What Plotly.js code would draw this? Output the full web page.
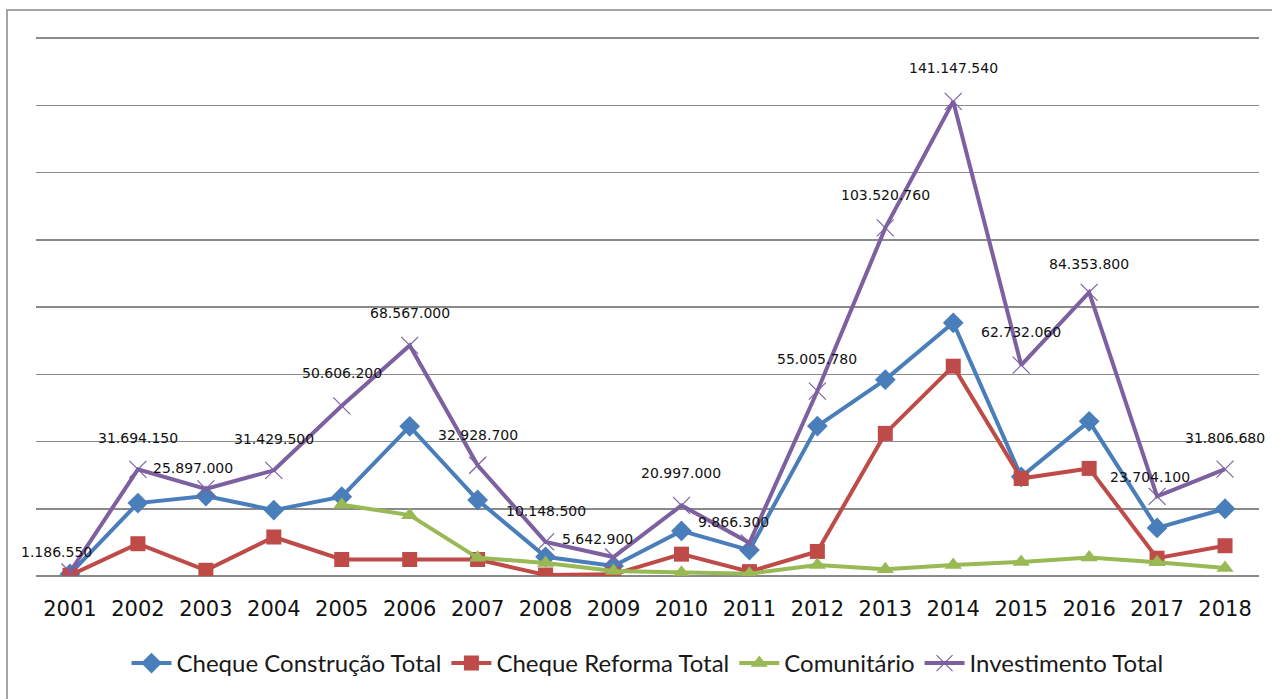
<!DOCTYPE html>
<html>
<head>
<meta charset="utf-8">
<script src="https://cdn.plot.ly/plotly-3.0.1.min.js"></script>
<style>
  html, body { margin: 0; padding: 0; background: #fff; }
  #chart { width: 1272px; height: 699px; }
</style>
</head>
<body>
<div id="chart"></div>
<script>
// ---- data ----
const years = ['2001','2002','2003','2004','2005','2006','2007','2008','2009','2010','2011','2012','2013','2014','2015','2016','2017','2018'];
const chequeConstrucao = [0.6e6, 21.7e6, 23.8e6, 19.6e6, 23.6e6, 44.5e6, 22.6e6, 5.7e6, 3.0e6, 13.4e6, 7.7e6, 44.6e6, 58.4e6, 75.3e6, 29.5e6, 46.0e6, 14.3e6, 20.0e6];
const chequeReforma = [0.2e6, 9.6e6, 1.7e6, 11.6e6, 4.9e6, 4.9e6, 4.9e6, 0.3e6, 0.5e6, 6.5e6, 1.3e6, 7.3e6, 42.4e6, 62.4e6, 29.0e6, 32.0e6, 5.3e6, 9.0e6];
const comunitario = [null, null, null, null, 21.2e6, 18.1e6, 5.4e6, 3.9e6, 1.5e6, 1.0e6, 0.7e6, 3.3e6, 2.0e6, 3.3e6, 4.2e6, 5.5e6, 4.1e6, 2.4e6];
const investimentoTotal = [1186550, 31694150, 25897000, 31429500, 50606200, 68567000, 32928700, 10148500, 5642900, 20997000, 9866300, 55005780, 103520760, 141147540, 62732060, 84353800, 23704100, 31806680];
const investimentoLabels = ['1.186.550','31.694.150','25.897.000','31.429.500','50.606.200','68.567.000','32.928.700','10.148.500','5.642.900','20.997.000','9.866.300','55.005.780','103.520.760','141.147.540','62.732.060','84.353.800','23.704.100','31.806.680'];

// label offsets in pixels (style only)
const labelDx = [-13, 0, -13, 0, 0, 0, 0, 0, -16, 0, -16, 0, 0, 0, 0, 0, -7, 0];
const labelDy = [20, 31, 21, 31, 33, 32, 30, 31, 18, 32, 21, 32, 33, 33, 33, 28, 19, 31];

const lineW = 4;
const traces = [
  { name: 'Cheque Construção Total', x: years, y: chequeConstrucao, type: 'scatter', mode: 'lines+markers',
    line: { color: '#4A7EBB', width: lineW }, marker: { symbol: 'diamond', size: 16, color: '#4A7EBB' } },
  { name: 'Cheque Reforma Total', x: years, y: chequeReforma, type: 'scatter', mode: 'lines+markers',
    line: { color: '#BE4B48', width: lineW }, marker: { symbol: 'square', size: 15, color: '#BE4B48' } },
  { name: 'Comunitário', x: years, y: comunitario, type: 'scatter', mode: 'lines+markers',
    line: { color: '#98B954', width: lineW }, marker: { symbol: 'triangle-up', size: 15, color: '#98B954' } },
  { name: 'Investimento Total', x: years, y: investimentoTotal, type: 'scatter', mode: 'lines+markers',
    line: { color: '#7D60A0', width: lineW }, marker: { symbol: 'x-thin-open', size: 17, color: '#7D60A0', line: { width: 1.2, color: '#7D60A0' } } }
];

const annotations = years.map((yr, i) => ({
  x: i, y: investimentoTotal[i], xref: 'x', yref: 'y',
  text: investimentoLabels[i], showarrow: false,
  xshift: labelDx[i], yshift: labelDy[i],
  font: { family: 'DejaVu Sans, sans-serif', size: 14, color: '#111111' }
}));

const layout = {
  width: 1272, height: 699,
  margin: { l: 36, r: 13, t: 36, b: 123 },
  paper_bgcolor: '#ffffff', plot_bgcolor: '#ffffff',
  showlegend: true,
  legend: { orientation: 'h', x: 0.5, xanchor: 'center', y: -0.162, yanchor: 'middle',
    font: { family: 'Lato, sans-serif', size: 24, color: '#1a1a1a' }, itemwidth: 40, traceorder: 'normal' },
  xaxis: { type: 'category', range: [-0.5, 17.5], showgrid: false, showline: false, zeroline: false,
    ticks: '', ticklabelstandoff: 18,
    tickfont: { family: 'DejaVu Sans, sans-serif', size: 21, color: '#111111' } },
  yaxis: { range: [0, 160.6e6], tickvals: [0, 20e6, 40e6, 60e6, 80e6, 100e6, 120e6, 140e6, 160e6], showticklabels: false, showgrid: true, gridcolor: '#8a8a8a', gridwidth: 1.5,
    zeroline: true, zerolinecolor: '#8a8a8a', zerolinewidth: 1.5, showline: false, ticks: '' },
  annotations: annotations,
  shapes: [{ type: 'rect', xref: 'paper', yref: 'paper', x0: -0.0237, x1: 1.05, y0: -0.3, y1: 1.048,
    line: { color: '#a6a6a6', width: 2 }, fillcolor: 'rgba(0,0,0,0)', layer: 'below' }]
};

Plotly.newPlot('chart', traces, layout, { displayModeBar: false, staticPlot: true });
</script>
</body>
</html>
